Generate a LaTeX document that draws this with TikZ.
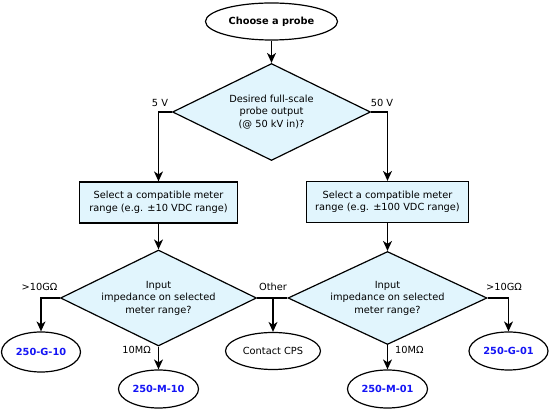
\documentclass[tikz,border=0pt]{standalone}
\usepackage{fontspec}
\setmainfont{DejaVu Sans}
\usetikzlibrary{shapes.geometric,arrows.meta}
\definecolor{fillblue}{RGB}{225,245,253}
\definecolor{leafblue}{RGB}{20,20,245}
\begin{document}
\begin{tikzpicture}[x=1pt,y=-1pt,
  every node/.style={font=\fontsize{9.8}{12.5}\selectfont},
  shapeline/.style={draw=black,line width=1.2pt},
  oval/.style={shapeline,ellipse,inner sep=0pt,fill=white},
  dia/.style={shapeline,diamond,aspect=2,inner sep=0pt,fill=fillblue,align=center},
  stepbox/.style={shapeline,rectangle,inner sep=0pt,fill=fillblue,align=center,minimum width=158pt,minimum height=41pt},
  leaf/.style={oval,font=\fontsize{9.8}{12.5}\selectfont\bfseries,text=leafblue,minimum width=79pt,minimum height=39pt},
  conn/.style={draw=black,line width=1.4pt,-{Stealth[length=10pt,width=9pt,inset=3pt]}},
  plain/.style={draw=black,line width=1.4pt},
  lbl/.style={inner sep=0pt}
]
\useasboundingbox (0,0) rectangle (550,411);
\node[oval,minimum width=132pt,minimum height=37pt,font=\fontsize{9.8}{12.5}\selectfont\bfseries] (start) at (271.5,21.5) {Choose a probe};
\node[dia,minimum width=198pt,minimum height=97pt] (d1) at (271.5,112) {Desired full-scale\\probe output\\(@ 50 kV in)?};
\node[stepbox] (b1) at (158.5,202.5) {Select a compatible meter\\range (e.g. ±10 VDC range)};
\node[stepbox,minimum width=162pt] (b2) at (387.5,202) {Select a compatible meter\\range (e.g. ±100 VDC range)};
\node[dia,minimum width=196pt,minimum height=96pt] (d2l) at (158.5,298) {Input\\impedance on selected\\meter range?};
\node[dia,minimum width=199pt,minimum height=93pt] (d2r) at (387.5,298) {Input\\impedance on selected\\meter range?};
\node[leaf,minimum height=40pt] (g10) at (41,352) {250-G-10};
\node[leaf,minimum width=80pt,minimum height=38pt] (m10) at (158.5,389) {250-M-10};
\node[oval,minimum width=95pt,minimum height=37pt] (cps) at (273,351) {Contact CPS};
\node[leaf,minimum width=80pt,minimum height=38pt] (m01) at (387.5,389) {250-M-01};
\node[leaf,minimum height=38pt] (g01) at (508.5,351) {250-G-01};
\coordinate (jn) at (273,298);

\draw[conn] (start) -- (d1.north);
\draw[conn] (d1.west) -| (b1.north);
\draw[conn] (d1.east) -| (b2.north);
\draw[conn] (b1.south) -- (d2l.north);
\draw[conn] (b2.south) -- (d2r.north);
\draw[conn] (d2l.west) -| (g10.north);
\draw[conn] (d2l.south) -- (m10.north);
\draw[plain] (d2l.east) -- (d2r.west);
\draw[conn] (jn) -- (cps.north);
\draw[conn] (d2r.south) -- (m01.north);
\draw[conn] (d2r.east) -| (g01.north);

\node[lbl] (l5) at (160,103) {5 V};
\node[lbl] (l50) at (382,103) {50 V};
\node[lbl] (lg10) at (39.5,287) {>10GΩ};
\node[lbl,anchor=east] (lm10) at (151,350) {10MΩ};
\node[lbl] (loth) at (273,287) {Other};
\node[lbl,anchor=west] (lm01) at (395,350) {10MΩ};
\node[lbl] (lg01) at (504,287) {>10GΩ};
\end{tikzpicture}
\end{document}
